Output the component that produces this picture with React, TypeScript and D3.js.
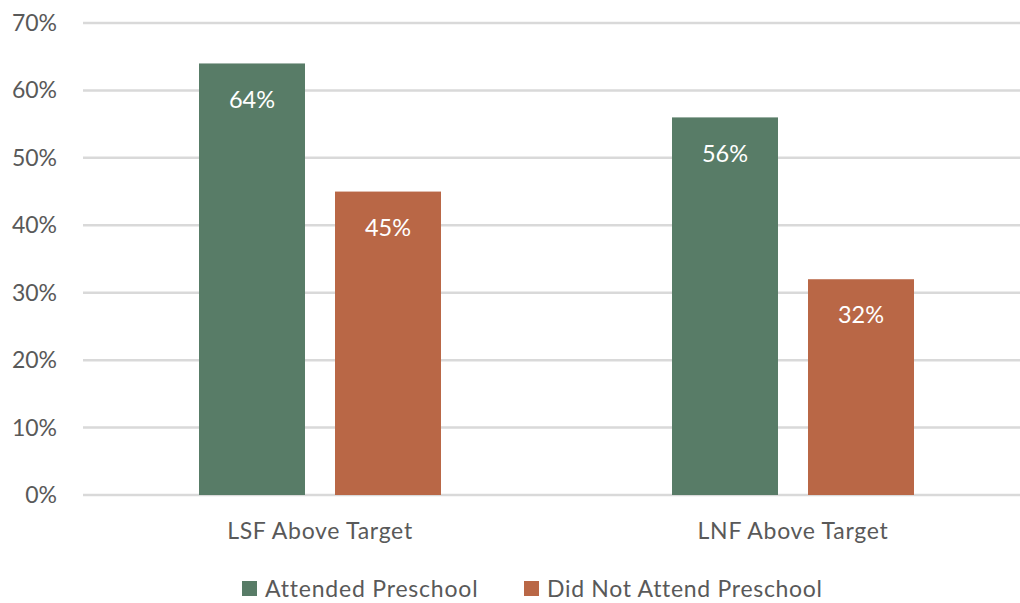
import React from "react";
import * as d3 from "d3";

const categories = ["LSF Above Target", "LNF Above Target"];
const seriesNames = ["Attended Preschool", "Did Not Attend Preschool"];
const attended = [64, 56];
const notAttended = [45, 32];
const yTicks = [0, 10, 20, 30, 40, 50, 60, 70];
const colors = ["#587C67", "#B96746"];

export default function App() {
  const W = 1020, H = 603;
  const x0 = d3.scaleBand().domain(categories).range([83.5, 1029.5]).paddingInner(0).paddingOuter(0);
  const y = d3.scaleLinear().domain([0, 70]).range([495, 23]);
  const barW = 106, gap = 30;
  const series = [attended, notAttended];
  const font = "Lato, 'Open Sans', sans-serif";
  return (
    <svg width={W} height={H} style={{ position: "absolute", left: 0, top: 0, background: "#fff" }} fontFamily={font}>
      {yTicks.map((t) => (
        <g key={t}>
          <line x1={83} x2={1030} y1={y(t)} y2={y(t)} stroke="#D9D9D9" strokeWidth={2.5} />
          <text x={57} y={y(t)} dy="0.35em" textAnchor="end" fontSize={23} fill="#595959">{t}%</text>
        </g>
      ))}
      {categories.map((c, i) => {
        const cx = (x0(c) as number) + x0.bandwidth() / 2;
        const left = cx - (barW * 2 + gap) / 2;
        return (
          <g key={c}>
            {series.map((s, j) => {
              const bx = left + j * (barW + gap);
              return (
                <g key={j}>
                  <rect x={bx} y={y(s[i])} width={barW} height={y(0) - y(s[i])} fill={colors[j]} />
                  <text x={bx + barW / 2} y={y(s[i]) + 36} dy="0.35em" textAnchor="middle" fontSize={23.5} fill="#fff">{s[i]}%</text>
                </g>
              );
            })}
            <text x={cx} y={531} dy="0.35em" textAnchor="middle" fontSize={23} letterSpacing={0.7} fill="#595959">{c}</text>
          </g>
        );
      })}
      <g>
        <rect x={242} y={581} width={15} height={15} fill={colors[0]} />
        <text x={265} y={589} dy="0.35em" fontSize={23} letterSpacing={0.8} fill="#595959">{seriesNames[0]}</text>
        <rect x={524} y={581} width={15} height={15} fill={colors[1]} />
        <text x={547} y={589} dy="0.35em" fontSize={23} letterSpacing={0.7} fill="#595959">{seriesNames[1]}</text>
      </g>
    </svg>
  );
}
